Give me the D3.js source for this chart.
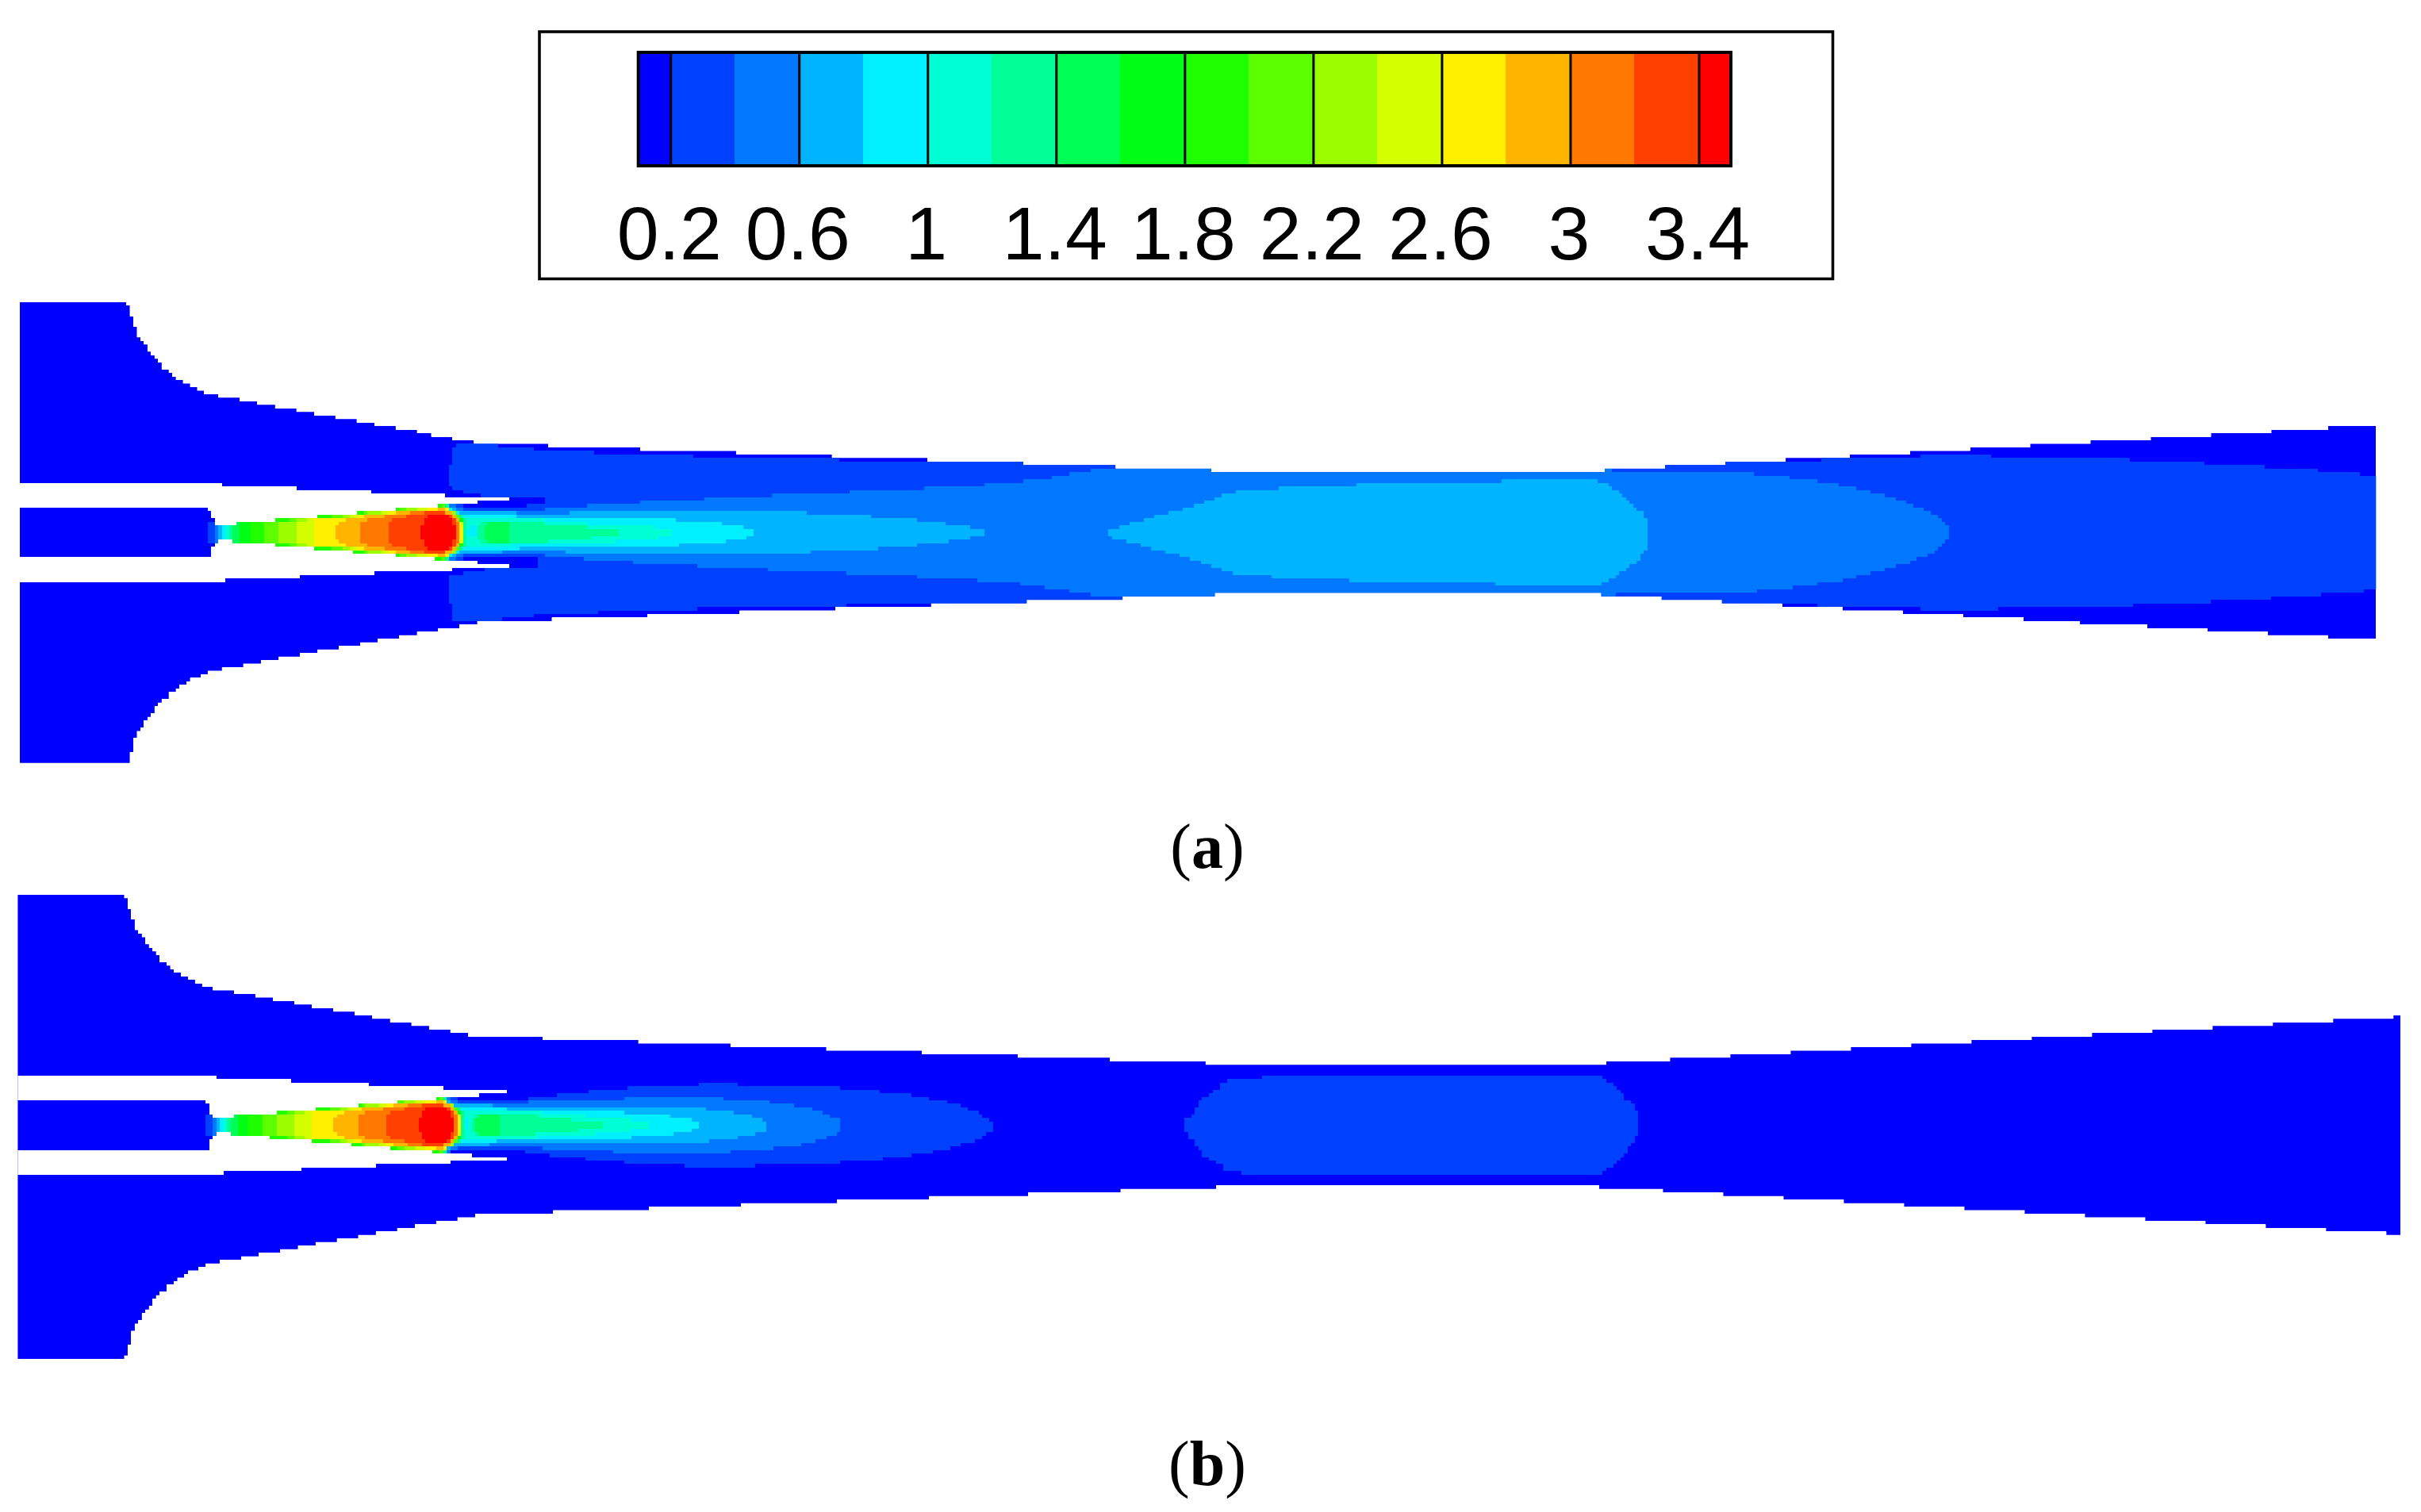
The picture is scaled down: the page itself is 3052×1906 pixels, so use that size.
<!DOCTYPE html>
<html>
<head>
<meta charset="utf-8">
<script src="https://cdn.jsdelivr.net/npm/d3@7"></script>
<style>
  html, body { margin: 0; background: #fff; }
  svg { display: block; }
</style>
</head>
<body>
<svg id="chart"></svg>
<script>
// colour bar
const levels = [0.2, 0.4, 0.6, 0.8, 1, 1.2, 1.4, 1.6, 1.8, 2, 2.2, 2.4, 2.6, 2.8, 3, 3.2, 3.4];
const barEdges = [0.1, ...levels, 3.5];
const barColors = ["#0000ff", "#0040ff", "#0078ff", "#00b4ff", "#00f0ff", "#00ffd4", "#00ff96", "#00ff55", "#00ff15",
  "#20ff00", "#5cff00", "#9bff00", "#d4ff00", "#fff000", "#ffb400", "#ff7800", "#ff4000", "#ff0000"];
const barTicks = [0.2, 0.6, 1, 1.4, 1.8, 2.2, 2.6, 3, 3.4];

// every list below is [axial cell, radial cell] read off the mesh, value holds until the next entry
// walls, panel a
const wallTopA = [[0,65],[30,64],[31,61],[32,58],[33,55],[34,54],[35,53],[36,51],[37,50],[38,49],[39,48],[40,46],[42,45],[43,44],[44,43],[46,42],[48,41],[50,40],[52,39],[56,38],[62,37],[67,36],[72,35],[78,34],[83,33],[89,32],[95,31],[100,30],[106,29],[112,28],[116,27],[122,26],[128,25],[149,24],[175,23],[202,22],[229,21],[256,20],[283,19],[309,18],[336,17],[447,18],[464,19],[481,20],[498,21],[516,22],[533,23],[550,24],[567,25],[584,26],[601,27],[618,28],[635,29],[651,30]];
const wallBotA = [[0,-65],[31,-62],[32,-58],[33,-56],[34,-55],[35,-53],[36,-52],[37,-51],[38,-49],[39,-48],[40,-47],[42,-45],[44,-44],[45,-43],[47,-42],[48,-41],[51,-40],[53,-39],[57,-38],[63,-37],[68,-36],[73,-35],[79,-34],[84,-33],[90,-32],[96,-31],[101,-30],[107,-29],[112,-28],[118,-27],[124,-26],[129,-25],[150,-24],[177,-23],[203,-22],[230,-21],[257,-20],[284,-19],[311,-18],[337,-17],[446,-18],[463,-19],[480,-20],[497,-21],[514,-22],[531,-23],[548,-24],[565,-25],[581,-26],[600,-27],[617,-28],[634,-29],[651,-30]];
const gapA = [
  [[[0,14],[57,13],[78,12],[99,11],[120,10]], [[0,7],[53,6],[54,4],[55,2],[61,3],[72,4],[84,5],[95,6],[106,7],[118,8],[129,9]], 138],
  [[[0,-7],[54,-4],[55,-3],[56,-2],[60,-3],[72,-4],[83,-5],[94,-6],[106,-7],[117,-8],[129,-9]], [[0,-14],[58,-13],[79,-12],[100,-11],[122,-10]], 138]
];

// walls, panel b
const wallTopB = [[0,65],[30,64],[31,61],[32,58],[33,55],[34,54],[35,53],[36,51],[37,50],[38,49],[39,48],[40,46],[42,45],[43,44],[44,43],[46,42],[48,41],[50,40],[52,39],[55,38],[61,37],[67,36],[72,35],[78,34],[83,33],[89,32],[95,31],[100,30],[105,29],[111,28],[116,27],[122,26],[127,25],[148,24],[175,23],[201,22],[228,21],[255,20],[282,19],[308,18],[335,17],[448,18],[466,19],[483,20],[500,21],[517,22],[534,23],[551,24],[568,25],[585,26],[602,27],[619,28],[636,29],[653,30],[670,31]];
const wallBotB = [[0,-66],[30,-65],[31,-62],[32,-58],[33,-56],[34,-55],[35,-53],[36,-52],[37,-51],[38,-49],[39,-48],[40,-47],[42,-45],[44,-44],[45,-43],[47,-42],[48,-41],[51,-40],[53,-39],[57,-38],[63,-37],[68,-36],[74,-35],[79,-34],[84,-33],[90,-32],[96,-31],[101,-30],[107,-29],[112,-28],[118,-27],[124,-26],[129,-25],[151,-24],[178,-23],[204,-22],[231,-21],[257,-20],[285,-19],[311,-18],[338,-17],[446,-18],[464,-19],[481,-20],[498,-21],[515,-22],[532,-23],[549,-24],[566,-25],[583,-26],[600,-27],[617,-28],[634,-29],[651,-30],[668,-31]];
const gapB = [
  [[[0,14],[56,13],[77,12],[99,11],[120,10]], [[0,7],[53,6],[54,3],[55,2],[61,3],[73,4],[84,5],[96,6],[107,7],[118,8],[130,9]], 138],
  [[[0,-7],[54,-4],[55,-3],[56,-2],[60,-3],[71,-4],[83,-5],[94,-6],[105,-7],[117,-8],[128,-9]], [[0,-14],[58,-13],[80,-12],[101,-11],[122,-10]], 138]
];

// primary jet, same in both panels: [level, upper contour, end cell], lower contour is its mirror
const jetBands = [
  [0.2, [[53,3]], 63], [0.4, [[55,3]], 63], [0.6, [[56,3]], 63], [0.8, [[57,3]], 63],
  [1, [[58,3]], 63], [1.2, [[59,3]], 63], [1.4, [[60,3]], 63],
  [1.2, [[116,9],[121,6],[123,5],[125,4]], 126],
  [1.6, [[62,9],[120,7],[121,6],[123,5],[124,4]], 125],
  [1.8, [[65,9],[120,7],[121,6],[123,5],[124,3]], 125],
  [2, [[69,3],[76,4],[88,5],[97,6],[107,7],[119,8],[120,7],[121,6],[123,5],[124,3]], 125],
  [2.2, [[73,3],[78,4],[91,5],[98,6],[109,7],[121,6],[123,4],[124,3]], 125],
  [2.4, [[78,3],[81,4],[93,5],[102,6],[112,7],[121,6],[122,5],[123,4],[124,3]], 125],
  [2.6, [[83,4],[95,5],[104,6],[115,7],[121,6],[122,5],[123,4],[124,2]], 125],
  [2.8, [[89,2],[90,3],[92,4],[97,5],[106,6],[118,7],[120,6],[122,5],[123,4]], 124],
  [3, [[96,3],[98,4],[103,5],[110,6],[120,5],[122,4],[123,3]], 124],
  [3.2, [[104,3],[105,4],[109,5],[114,6],[120,5],[122,4]], 123],
  [3.4, [[113,2],[114,4],[115,5],[121,4],[122,2]], 123]
];

// contour bands, panel a: [level, upper contour, lower contour, end cell], painted in this order
const bandsA = [
  [0.2, [[121,19],[122,24],[123,25],[135,24],[145,23],[162,22],[190,21],[231,20],[508,21],[536,22],[556,21],[595,20],[616,19],[633,18],[648,17],[660,16]],
        [[121,-20],[122,-25],[136,-24],[145,-23],[163,-22],[191,-21],[233,-20],[507,-21],[536,-22],[558,-21],[596,-20],[618,-19],[635,-18],[649,-17],[661,-16]], 665],
  [0.1, [[121,13],[122,12],[125,11],[130,10]], [[121,9],[125,7],[143,8]], 148],
  [0.1, [[121,-9],[125,-7]], [[121,-12],[125,-11],[131,-10]], 146],
  [0.4, [[118,9],[121,8],[123,7],[125,6],[148,7],[160,8],[175,9],[193,10],[212,11],[234,12],[255,13],[272,14],[283,15],[291,16],[296,17],[302,18],[449,17],[489,16],[499,15],[507,14],[513,13],[518,12],[522,11],[526,10],[529,9],[532,8],[534,7],[537,6],[539,5],[541,4],[542,3],[543,2]],
        [[118,-9],[121,-8],[123,-7],[125,-6],[148,-7],[159,-8],[173,-9],[191,-10],[211,-11],[233,-12],[253,-13],[270,-14],[282,-15],[289,-16],[296,-17],[302,-18],[450,-17],[490,-16],[500,-15],[507,-14],[514,-13],[518,-12],[522,-11],[526,-10],[529,-9],[533,-8],[535,-7],[538,-6],[540,-5],[541,-4],[542,-3],[543,-2]], 544],
  [0.6, [[118,9],[120,8],[121,7],[123,6],[140,5],[155,6],[222,5],[240,4],[253,3],[261,2],[268,1]],
        [[118,-9],[120,-8],[121,-7],[123,-6],[136,-5],[154,-6],[223,-5],[242,-4],[253,-3],[262,-2],[268,-1]], 272],
  [0.6, [[307,1],[310,2],[313,3],[317,4],[320,5],[324,6],[328,7],[331,8],[334,9],[337,10],[339,11],[343,12],[355,13],[377,14],[418,15],[445,14],[448,13],[449,12],[451,11],[452,10],[453,9],[454,8],[455,7],[456,6],[458,4]],
        [[307,-1],[308,-2],[312,-3],[316,-4],[319,-5],[323,-6],[327,-7],[330,-8],[333,-9],[336,-10],[339,-11],[342,-12],[353,-13],[375,-14],[416,-15],[446,-14],[448,-13],[450,-12],[451,-11],[453,-10],[454,-9],[456,-8],[457,-6],[458,-5]], 459],
  [0.8, [[118,9],[121,7],[122,6],[124,5],[140,4],[185,3],[198,2],[204,1]],
        [[118,-9],[121,-7],[122,-6],[124,-5],[141,-4],[186,-3],[199,-2],[205,-1]], 207],
  [1, [[118,9],[120,7],[122,6],[123,5],[125,4],[148,3],[160,2],[179,1]],
      [[118,-9],[120,-7],[122,-6],[123,-5],[125,-4],[139,-3],[168,-2],[180,-1]], 184],
  [0.8, [[126,1],[127,2]], [[126,-1]], 129],
  [1.2, [[129,2],[130,3],[148,2],[160,1]], [[129,-2],[130,-3],[149,-2],[161,-1]], 169],
  [1.4, [[131,2],[132,3]], [[131,-2],[132,-3]], 138]
];

// contour bands, panel b
const bandsB = [
  [0.2, [[118,9],[124,7],[144,8],[152,9],[161,10],[172,11],[192,12],[203,11],[232,10],[243,9],[252,8],[257,7],[262,6],[266,5],[268,4],[271,3],[272,2],[274,1]],
        [[118,-9],[119,-8],[122,-7],[143,-8],[150,-9],[160,-10],[171,-11],[188,-12],[208,-11],[232,-10],[244,-9],[252,-8],[258,-7],[263,-6],[266,-5],[270,-4],[272,-3],[273,-2]], 275],
  [0.2, [[329,2],[331,3],[332,5],[333,7],[334,8],[336,9],[337,10],[339,12],[341,13],[351,14],[447,13],[448,12],[450,11],[451,10],[452,9],[453,7],[455,6],[456,4]],
        [[329,-2],[330,-4],[332,-6],[333,-7],[334,-9],[336,-10],[338,-11],[340,-13],[345,-14],[447,-13],[448,-12],[450,-11],[451,-10],[452,-9],[453,-8],[454,-6],[455,-5],[456,-3]], 457],
  [0.4, [[118,9],[120,8],[122,7],[124,6],[144,7],[171,8],[199,7],[212,6],[219,5],[224,4],[227,3],[229,2]],
        [[118,-9],[120,-8],[122,-7],[124,-6],[148,-7],[168,-8],[201,-7],[213,-6],[221,-5],[225,-4],[228,-3],[231,-2]], 232],
  [0.6, [[118,9],[119,8],[120,7],[122,6],[134,5],[194,4],[202,3],[207,2],[210,1]],
        [[118,-9],[119,-8],[120,-7],[122,-6],[133,-5],[195,-4],[203,-3],[208,-2]], 211],
  [0.8, [[118,9],[120,7],[121,6],[123,5],[138,4],[171,3],[184,2],[190,1]],
        [[118,-9],[120,-7],[121,-6],[123,-5],[135,-4],[173,-3],[185,-2],[190,-1]], 192],
  [1, [[118,9],[119,8],[120,7],[121,6],[122,5],[124,4],[148,3],[160,2],[173,1]],
      [[118,-9],[120,-6],[122,-5],[124,-4],[147,-3],[163,-2],[173,-1]], 178],
  [0.8, [[125,1],[126,2]], [[125,-1]], 127],
  [1.2, [[128,2],[129,3],[147,2],[156,1]], [[128,-2],[129,-3],[146,-2],[158,-1]], 165],
  [1.4, [[129,2],[130,3]], [[129,-2],[130,-3]], 136]
];

const panelLabels = ["a", "b"];

const W = 3052, H = 1906, CELL = 4.47;
const svg = d3.select("#chart").attr("width", W).attr("height", H).style("background", "#fff");
const color = d3.scaleThreshold().domain(levels).range(barColors);

// helpers
const at = (steps, i) => { let v = steps[0][1]; for (const [a, b] of steps) if (a <= i) v = b; return v; };
const cols = (top, bot, end) => {
  const xs = [...new Set([...top.map(d => d[0]), ...bot.map(d => d[0]), end])].sort(d3.ascending);
  return xs.map(i => ({ i, t: at(top, i), b: at(bot, i) }));
};
const mirror = s => s.map(d => [d[0], -d[1]]);

// one panel of the field
function panel(id, x0, cy, iEnd, wallTop, wallBot, gaps, bands) {
  const x = d3.scaleLinear().domain([0, iEnd]).range([x0, x0 + iEnd * CELL]);
  const y = d3.scaleLinear().domain([-70, 70]).range([cy + 70 * CELL, cy - 70 * CELL]);
  const area = d3.area().curve(d3.curveStepAfter).x(d => x(d.i)).y0(d => y(d.b)).y1(d => y(d.t));
  const wall = area(cols(wallTop, wallBot, iEnd));

  svg.append("clipPath").attr("id", "clip" + id).append("path").attr("d", wall);
  const g = svg.append("g").attr("clip-path", `url(#clip${id})`).attr("shape-rendering", "crispEdges");

  g.append("path").attr("d", wall).attr("fill", barColors[0]);
  const all = [...bands, ...jetBands.map(d => [d[0], d[1], mirror(d[1]), d[2]])];
  g.selectAll("path.band").data(all).join("path").attr("class", "band")
    .attr("d", d => area(cols(d[1], d[2], d[3])))
    .attr("fill", d => color(d[0]));
  g.selectAll("path.gap").data(gaps).join("path").attr("class", "gap")
    .attr("d", d => area(cols(d[0], d[1], d[2])))
    .attr("fill", "#fff");
}

panel("A", 25, 671.2, 664.5, wallTopA, wallBotA, gapA, bandsA);
panel("B", 22.4, 1418.3, 672, wallTopB, wallBotB, gapB, bandsB);

// legend
svg.append("rect").attr("x", 680).attr("y", 40).attr("width", 1630.5).attr("height", 311.5)
  .attr("fill", "#fff").attr("stroke", "#000").attr("stroke-width", 3.6);

const barX = d3.scaleLinear().domain([0.1, 3.5]).range([804.7, 2182]);
const barTop = 66, barBot = 209;
svg.selectAll("rect.cb").data(barColors).join("rect").attr("class", "cb")
  .attr("x", (d, i) => barX(barEdges[i]))
  .attr("width", (d, i) => barX(barEdges[i + 1]) - barX(barEdges[i]))
  .attr("y", barTop).attr("height", barBot - barTop)
  .attr("fill", d => d).attr("shape-rendering", "crispEdges");
svg.append("rect").attr("x", barX(0.1)).attr("y", barTop).attr("width", barX(3.5) - barX(0.1)).attr("height", barBot - barTop)
  .attr("fill", "none").attr("stroke", "#000").attr("stroke-width", 4);

const axis = d3.axisBottom(barX).tickValues(barTicks).tickFormat(d3.format("")).tickSize(-(barBot - barTop)).tickPadding(0);
const ax = svg.append("g").attr("transform", `translate(0,${barBot})`).call(axis);
ax.select(".domain").remove();
ax.selectAll(".tick line").attr("stroke", "#000").attr("stroke-width", 3);
ax.selectAll(".tick text")
  .attr("x", -2).attr("y", 118).attr("dy", 0)
  .attr("font-family", "'Liberation Sans', Arial, sans-serif").attr("font-size", 95).attr("fill", "#000");

// panel captions
svg.selectAll("text.cap").data(panelLabels).join("text").attr("class", "cap")
  .attr("x", 1522).attr("y", (d, i) => [1094, 1872][i])
  .attr("text-anchor", "middle")
  .attr("font-family", "'Liberation Serif', 'Times New Roman', serif").attr("font-size", 80).attr("fill", "#000")
  .each(function (d) {
    const t = d3.select(this);
    t.append("tspan").text("(");
    t.append("tspan").attr("font-weight", "bold").text(d);
    t.append("tspan").text(")");
  });
</script>
</body>
</html>
